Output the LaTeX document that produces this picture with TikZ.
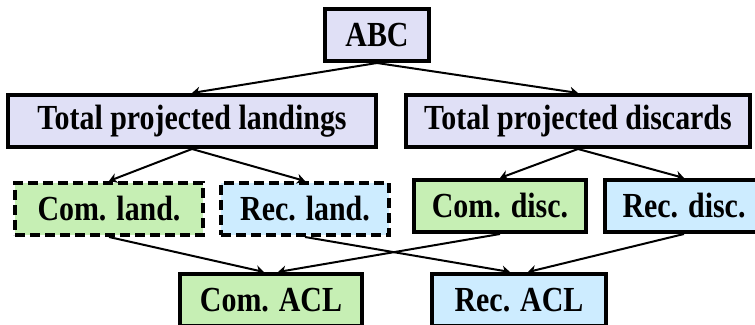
\documentclass[tikz,border=0pt]{standalone}
\usepackage{fontspec}
\setmainfont{Liberation Serif}
\newfontfamily\boxfont[FakeStretch=0.85]{Liberation Serif}
\usetikzlibrary{arrows.meta}
\definecolor{lav}{RGB}{224,224,246}
\definecolor{comgreen}{RGB}{198,239,180}
\definecolor{recblue}{RGB}{205,236,255}
\tikzset{
  box/.style={draw,line width=2pt,minimum height=26pt,inner sep=0pt,
    font=\boxfont\fontsize{17.6}{20}\selectfont\bfseries},
  dashbox/.style={box,dash pattern=on 5pt off 2.5pt},
  link/.style={line width=1pt,-{Stealth[length=4pt,width=5pt]}}
}
\begin{document}
\begin{tikzpicture}[x=0.5pt,y=-0.5pt]
\useasboundingbox (0,0) rectangle (755,325);
\clip (0,0) rectangle (755,325);
% totals
\node[box,fill=lav,minimum width=52pt] (abc) at (377,35) {ABC};
\node[box,fill=lav,minimum width=184pt] (land) at (192,121) {Total projected landings};
\node[box,fill=lav,minimum width=172pt] (disc) at (578,121) {Total projected discards};
% by sector
\node[dashbox,fill=comgreen,minimum width=94pt] (comland) at (109,209) {Com. land.};
\node[dashbox,fill=recblue,minimum width=84pt] (recland) at (305,209) {Rec. land.};
\node[box,fill=comgreen,minimum width=86pt] (comdisc) at (500,206) {Com. disc.};
\node[box,fill=recblue,minimum width=79pt] (recdisc) at (684,206) {Rec. disc.};
% ACLs
\node[box,fill=comgreen,minimum width=91pt] (comacl) at (271,300) {Com. ACL};
\node[box,fill=recblue,minimum width=87pt] (recacl) at (519,300) {Rec. ACL};
\foreach \a/\b in {abc/land,abc/disc,land/comland,land/recland,disc/comdisc,disc/recdisc}{
  \draw[link] (\a.south) -- (\b.north);
}
\draw[link] (comland.south) -- ([xshift=-3.5]comacl.north);
\draw[link] (comdisc.south) -- ([xshift=3.5]comacl.north);
\draw[link] (recland.south) -- ([xshift=-4.5]recacl.north);
\draw[link] (recdisc.south) -- ([xshift=4.5]recacl.north);
\end{tikzpicture}
\end{document}
